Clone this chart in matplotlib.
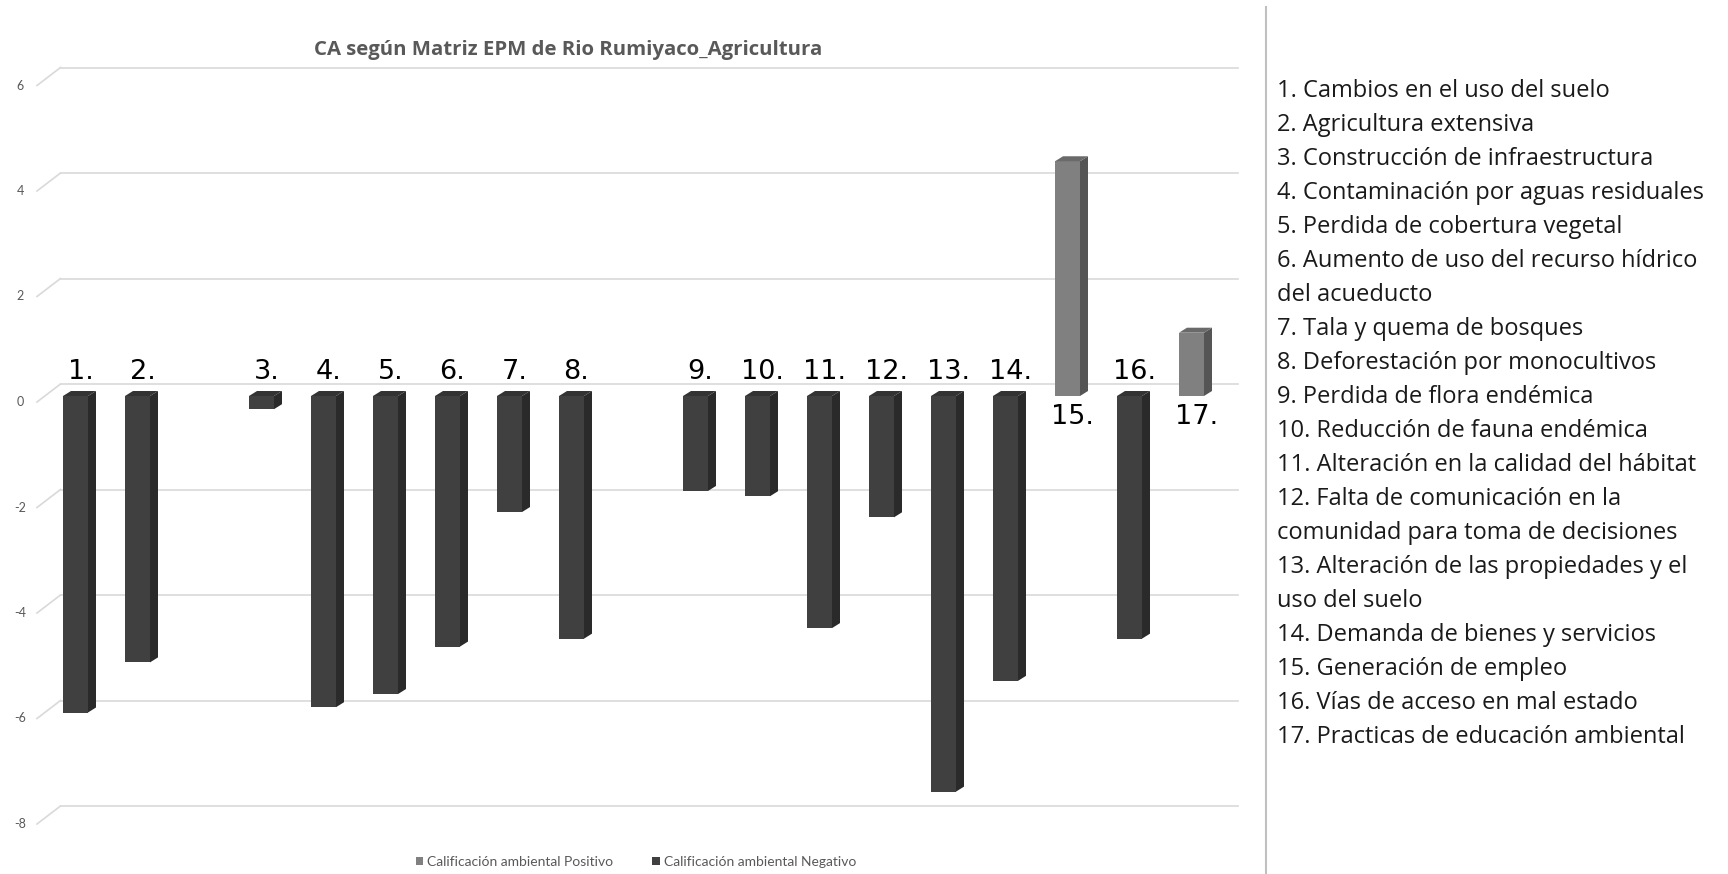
import numpy as np
import matplotlib.pyplot as plt
from matplotlib.lines import Line2D

# Datos ________________________________________________________________________________________________________________
categorias = ['1.', '2.', '', '3.', '4.', '5.', '6.', '7.', '8.', '', '9.', '10.', '11.', '12.', '13.', '14.',
              '15.', '16.', '17.']
positivo = [0, 0, 0, 0, 0, 0, 0, 0, 0, 0, 0, 0, 0, 0, 0, 0, 4.45, 0, 1.2]
negativo = [-6.0, -5.05, 0, -0.25, -5.9, -5.65, -4.75, -2.2, -4.6, 0, -1.8, -1.9, -4.4, -2.3, -7.5, -5.4, 0,
            -4.6, 0]
y_ticks = [-8, -6, -4, -2, 0, 2, 4, 6]
titulo = 'CA según Matriz EPM de Rio Rumiyaco_Agricultura'
series = ['Calificación ambiental Positivo', 'Calificación ambiental Negativo']
descripciones = [
    '1. Cambios en el uso del suelo',
    '2. Agricultura extensiva',
    '3. Construcción de infraestructura',
    '4. Contaminación por aguas residuales',
    '5. Perdida de cobertura vegetal',
    '6. Aumento de uso del recurso hídrico\ndel acueducto',
    '7. Tala y quema de bosques',
    '8. Deforestación por monocultivos',
    '9. Perdida de flora endémica',
    '10. Reducción de fauna endémica',
    '11. Alteración en la calidad del hábitat',
    '12. Falta de comunicación en la\ncomunidad para toma de decisiones',
    '13. Alteración de las propiedades y el\nuso del suelo',
    '14. Demanda de bienes y servicios',
    '15. Generación de empleo',
    '16. Vías de acceso en mal estado',
    '17. Practicas de educación ambiental',
]

# Figura _______________________________________________________________________________________________________________
W, H = 1728, 874
fig = plt.figure(figsize=(W / 100, H / 100), dpi=100)
fig.patch.set_facecolor('white')
plt.rcParams['font.family'] = ['Lato', 'DejaVu Sans']

ax = fig.add_axes([44.5 / W, (H - 870.75) / H, 1178 / W, 844 / H])
ax.set_xlim(-0.5, 18.5)
ax.set_ylim(-9, 7)
ax.axis('off')

# pixel -> data units (for the fake 3D depth)
px_x = 1178 / 19
px_y = 844 / 16
def dx(p):
    return p / px_x
def dy(p):
    return p / px_y

gris = '#595959'
grid_c = '#d9d9d9'

# gridlines with the 3D slant on the left side
for v in y_ticks:
    ax.plot([-0.5 - dx(7.5), -0.5 + dx(16)], [v - dy(6), v + dy(12)], color=grid_c, lw=1.2, zorder=0,
            clip_on=False)
    ax.plot([-0.5 + dx(16), 18.5 + dx(16)], [v + dy(12), v + dy(12)], color=grid_c, lw=1.2, zorder=0,
            clip_on=False)
    ax.text(-0.5 - dx(24.5), v - dy(6), str(v), ha='center', va='center', fontsize=9, color=gris)

# bars ----------------------------------------------------------------------------------------------------------------
x = np.arange(len(categorias))
w = 25 / px_x
b_pos = ax.bar(x, positivo, w, color='#808080', lw=0, zorder=2, label=series[0])
b_neg = ax.bar(x, negativo, w, color='#404040', lw=0, zorder=2, label=series[1])

ddx, ddy = dx(8), dy(5)
estilos = [(positivo, '#555555', '#6a6a6a'), (negativo, '#2a2a2a', '#333333')]
for vals, c_side, c_top in estilos:
    for i, v in enumerate(vals):
        if v == 0:
            continue
        xr = x[i] + w / 2
        xl = x[i] - w / 2
        ax.fill([xr, xr + ddx, xr + ddx, xr], [0, ddy, v + ddy, v], color=c_side, lw=0, zorder=2)
        yt = max(v, 0)
        ax.fill([xl, xr, xr + ddx, xl + ddx], [yt, yt, yt + ddy, yt + ddy], color=c_top, lw=0, zorder=2)

# category labels
for i, lab in enumerate(categorias):
    if lab == '':
        continue
    off = 17.3 if negativo[i] != 0 else -15.1
    ax.annotate(lab, (x[i] + dx(5), 0), xytext=(0, off), textcoords='offset points', ha='center',
                va='center', fontsize=19.5, family='DejaVu Sans', color='black')

# title / legend ______________________________________________________________________________________________________
fig.text(568 / W, 1 - 50 / H, titulo, ha='center', va='center', fontsize=14.7, fontweight='bold', color=gris,
         family=['Open Sans', 'DejaVu Sans'])

fig.legend([b_pos, b_neg], series, loc='center', bbox_to_anchor=(636 / W, 1 - 862 / H), ncol=2, frameon=False,
           fontsize=10, handlelength=0.55, handleheight=0.55, handletextpad=0.3, columnspacing=2.8,
           labelcolor=gris)

# right panel with the descriptions -----------------------------------------------------------------------------------
fig.add_artist(Line2D([1266 / W, 1266 / W], [1 - 7 / H, 0], color='#c0c0c0', lw=1.5))
lineas = '\n'.join(descripciones).split('\n')
for k, linea in enumerate(lineas):
    fig.text(1277 / W, 1 - (97 + k * 34) / H, linea, va='baseline', ha='left', fontsize=17, color='#1a1a1a',
             family=['Open Sans', 'DejaVu Sans'])

fig.savefig('out.png', dpi=100)
